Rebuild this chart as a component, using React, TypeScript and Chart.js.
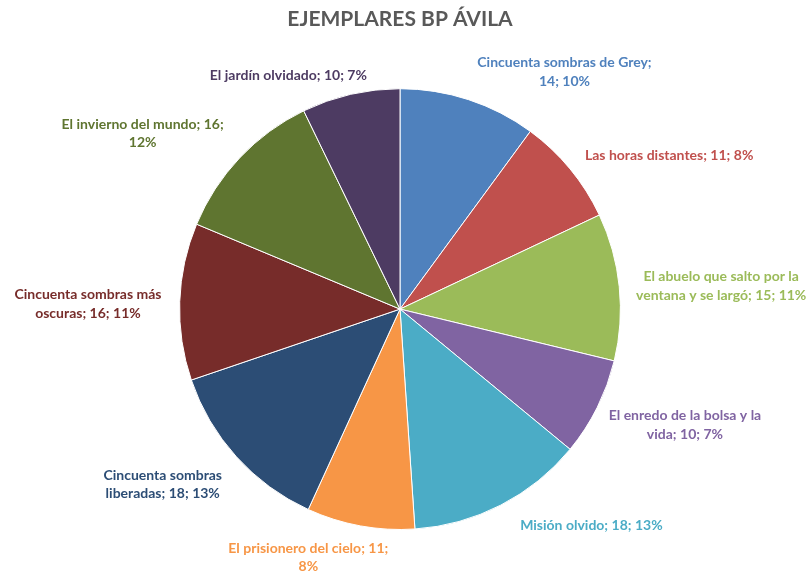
import React, { useEffect, useRef } from "react";
import { Chart, registerables } from "chart.js";

Chart.register(...registerables);

const categories = [
  "Cincuenta sombras de Grey",
  "Las horas distantes",
  "El abuelo que salto por la ventana y se largó",
  "El enredo de la bolsa y la vida",
  "Misión olvido",
  "El prisionero del cielo",
  "Cincuenta sombras liberadas",
  "Cincuenta sombras más oscuras",
  "El invierno del mundo",
  "El jardín olvidado",
];
const values = [14, 11, 15, 10, 18, 11, 18, 16, 16, 10];
const percentLabels = ["10%", "8%", "11%", "7%", "13%", "8%", "13%", "11%", "12%", "7%"];
const labelLines = [
  ["Cincuenta sombras de Grey;", "14; 10%"],
  ["Las horas distantes; 11; 8%"],
  ["El abuelo que salto por la", "ventana y se largó; 15; 11%"],
  ["El enredo de la bolsa y la", "vida; 10; 7%"],
  ["Misión olvido; 18; 13%"],
  ["El prisionero del cielo; 11;", "8%"],
  ["Cincuenta sombras", "liberadas; 18; 13%"],
  ["Cincuenta sombras más", "oscuras; 16; 11%"],
  ["El invierno del mundo; 16;", "12%"],
  ["El jardín olvidado; 10; 7%"],
];
const colors = [
  "#4F81BD", "#C0504D", "#9BBB59", "#8064A2", "#4BACC6",
  "#F79646", "#2C4D75", "#772C2A", "#5F7530", "#4D3B62",
];
const textColors = [
  "#4F81BD", "#C0504D", "#9BBB59", "#8064A2", "#4BACC6",
  "#F79646", "#2C4D75", "#772C2A", "#5F7530", "#4D3B62",
];
// label placement: angle shift (deg) from slice middle, distance as multiple of radius
const labelAngleShift = [16.6, 9.8, 1.7, -4.4, -14.3, 9.9, 5.6, -1.0, -9.1, -12.6];
const labelDistance = [1.31, 1.406, 1.461, 1.396, 1.311, 1.201, 1.339, 1.416, 1.413, 1.174];

const labelPlugin = {
  id: "outsideLabels",
  afterDatasetsDraw(chart: any) {
    const ctx = chart.ctx;
    const meta = chart.getDatasetMeta(0);
    ctx.save();
    ctx.font = "bold 14px Lato, 'Open Sans', sans-serif";
    ctx.textAlign = "center";
    ctx.textBaseline = "middle";
    meta.data.forEach((arc: any, i: number) => {
      const p = arc.getProps(["x", "y", "startAngle", "endAngle", "outerRadius"], true);
      const mid = (p.startAngle + p.endAngle) / 2 + (labelAngleShift[i] * Math.PI) / 180;
      const d = p.outerRadius * labelDistance[i];
      const cx = p.x + Math.cos(mid) * d;
      const cy = p.y + Math.sin(mid) * d;
      const lines = labelLines[i];
      const lh = 18.5;
      ctx.fillStyle = textColors[i];
      lines.forEach((ln: string, j: number) => {
        ctx.fillText(ln, cx, cy + (j - (lines.length - 1) / 2) * lh);
      });
    });
    ctx.restore();
  },
};

export default function App() {
  const ref = useRef<HTMLCanvasElement>(null);
  useEffect(() => {
    document.body.style.margin = "0";
    const chart = new Chart(ref.current!, {
      type: "pie",
      data: {
        labels: categories,
        datasets: [
          {
            data: values,
            backgroundColor: colors,
            borderColor: "#ffffff",
            borderWidth: 1,
          },
        ],
      },
      options: {
        animation: false,
        responsive: false,
        layout: { padding: { top: 0, bottom: 46, left: 0, right: 11 } },
        plugins: {
          legend: { display: false },
          tooltip: { enabled: false },
          title: {
            display: true,
            text: "EJEMPLARES BP ÁVILA",
            color: "#595959",
            font: { family: "Lato, 'Open Sans', sans-serif", size: 21, weight: "bold" },
            padding: { top: 7, bottom: 56 },
          },
        },
      },
      plugins: [labelPlugin],
    });
    return () => chart.destroy();
  }, []);
  return (
    <div style={{ width: 811, height: 576, background: "#fff" }}>
      <canvas ref={ref} width={811} height={576} style={{ display: "block" }} />
    </div>
  );
}
